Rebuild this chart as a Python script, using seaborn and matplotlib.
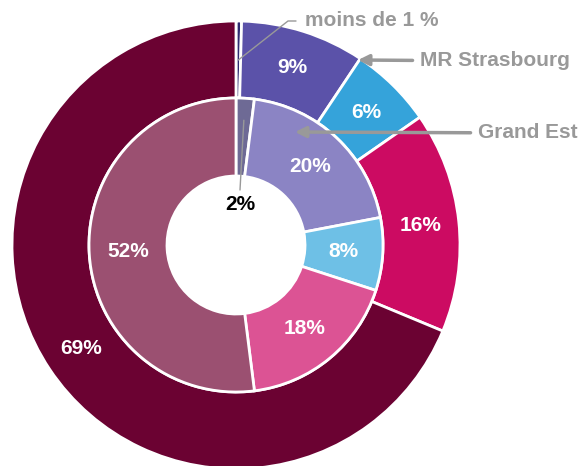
import matplotlib.pyplot as plt
import seaborn as sns
import numpy as np

# Data (clockwise from 12 o'clock)
outer_values = [0.4, 9, 6, 16, 69]
outer_labels = ['', '9%', '6%', '16%', '69%']
inner_values = [2, 20, 8, 18, 52]
inner_labels = ['', '20%', '8%', '18%', '52%']

outer_colors = ['#2E2A70', '#5B52A9', '#35A3DA', '#CC0B62', '#6B0232']
inner_colors = ['#6E6A95', '#8B84C4', '#6EC0E6', '#DC5394', '#9B5071']

sns.set_theme(style="white")
plt.rcParams['font.family'] = ['Liberation Sans', 'DejaVu Sans']

fig = plt.figure(figsize=(5.8, 4.66), dpi=100)
ax = fig.add_axes([0, 0, 1, 1])

cx, cy = 236, 221
r_out, r_mid, r_hole = 224, 147, 69

wedge_kw = dict(edgecolor='white', linewidth=2)
ax.pie(outer_values, colors=outer_colors, radius=r_out, center=(cx, cy),
       startangle=90, counterclock=False, frame=True,
       wedgeprops=dict(width=r_out - r_mid, **wedge_kw))
ax.pie(inner_values, colors=inner_colors, radius=r_mid, center=(cx, cy),
       startangle=90, counterclock=False, frame=True,
       wedgeprops=dict(width=r_mid - r_hole, **wedge_kw))
ax.set_xlim(0, 580)
ax.set_ylim(0, 466)
ax.set_aspect('equal')
ax.axis('off')


def mid_angles(values):
    v = np.array(values, dtype=float)
    ends = np.cumsum(v) / v.sum() * 360
    starts = ends - v / v.sum() * 360
    return np.deg2rad(90 - (starts + ends) / 2)


def polar(a, r):
    return cx + r * np.cos(a), cy + r * np.sin(a)


fs = 15
for a, lab in zip(mid_angles(outer_values), outer_labels):
    if lab:
        ax.text(*polar(a, 186), lab, ha='center', va='center',
                color='white', fontsize=fs, fontweight='bold')
for a, lab in zip(mid_angles(inner_values), inner_labels):
    if lab:
        ax.text(*polar(a, 108), lab, ha='center', va='center',
                color='white', fontsize=fs, fontweight='bold')

grey = '#999999'

# 2% label inside the hole
a2 = mid_angles(inner_values)[0]
ax.plot([polar(a2, 125)[0], 240], [polar(a2, 125)[1], 276], color=grey, lw=1)
ax.text(240, 262, '2%', ha='center', va='center', color='black',
        fontsize=fs, fontweight='bold')

# "moins de 1 %" leader line
a0 = mid_angles(outer_values)[0]
p0 = polar(a0, 185)
ax.plot([p0[0], 288, 296], [p0[1], 445, 445], color=grey, lw=1)
ax.text(305, 445, 'moins de 1 %', ha='left', va='center', color=grey,
        fontsize=fs, fontweight='bold')

# arrows
ax.annotate('MR Strasbourg', xy=(358, 406), xytext=(420, 405),
            ha='left', va='center', color=grey, fontsize=fs, fontweight='bold',
            arrowprops=dict(arrowstyle='-|>', color=grey, lw=2.5,
                            mutation_scale=16, shrinkA=3, shrinkB=0))
ax.annotate('Grand Est', xy=(295, 334), xytext=(478, 333),
            ha='left', va='center', color=grey, fontsize=fs, fontweight='bold',
            arrowprops=dict(arrowstyle='-|>', color=grey, lw=2.5,
                            mutation_scale=16, shrinkA=3, shrinkB=0))

fig.savefig('out.png', dpi=100, facecolor='white')
